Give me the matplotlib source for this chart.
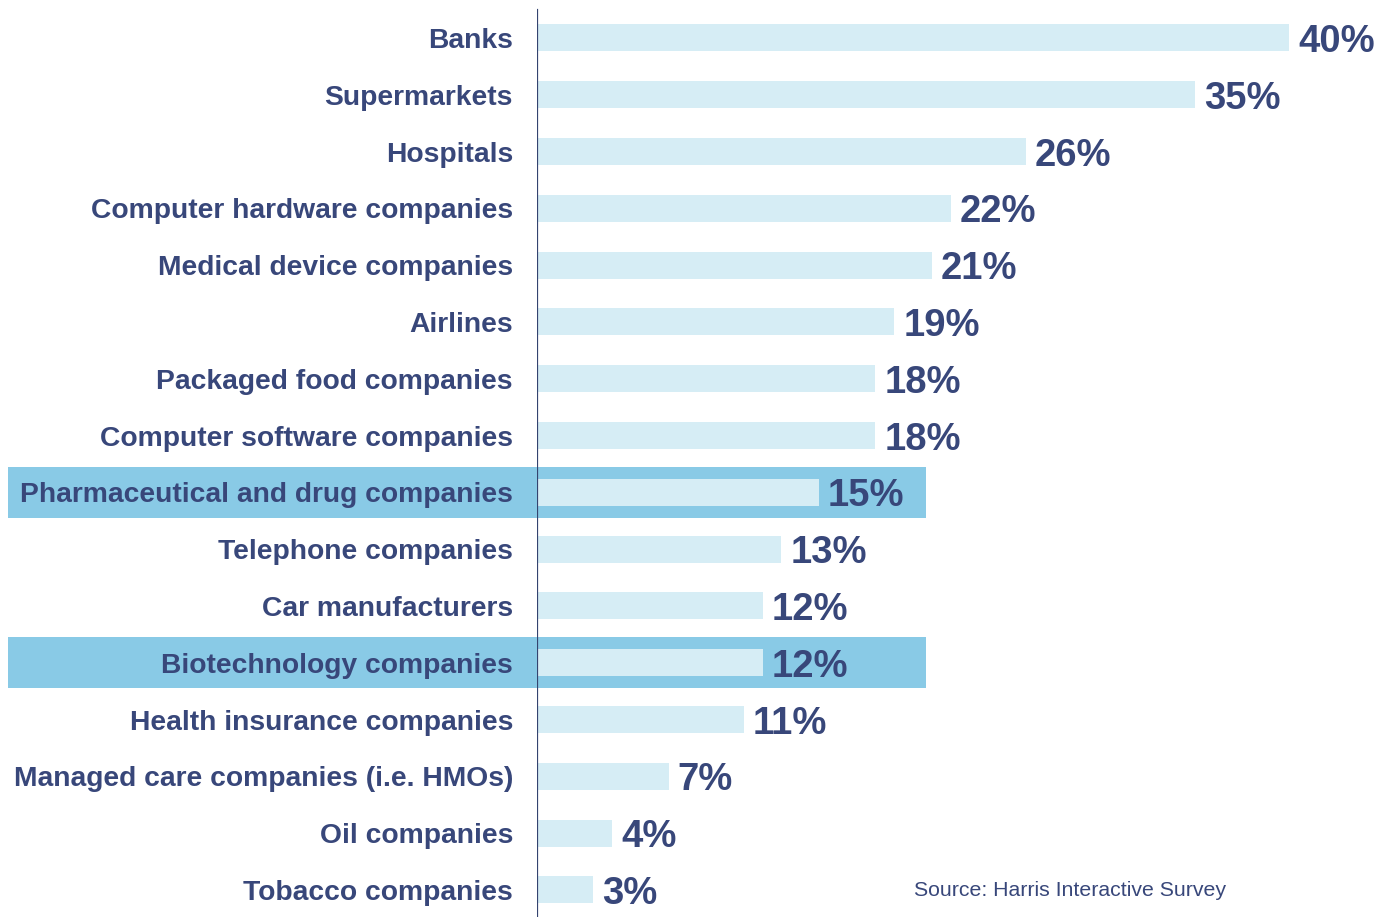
import matplotlib
matplotlib.use("Agg")
import matplotlib.pyplot as plt
from matplotlib.patches import Rectangle
from matplotlib.transforms import offset_copy

categories = [
    "Banks", "Supermarkets", "Hospitals", "Computer hardware companies",
    "Medical device companies", "Airlines", "Packaged food companies",
    "Computer software companies", "Pharmaceutical and drug companies",
    "Telephone companies", "Car manufacturers", "Biotechnology companies",
    "Health insurance companies", "Managed care companies (i.e. HMOs)",
    "Oil companies", "Tobacco companies",
]
values = [40, 35, 26, 22, 21, 19, 18, 18, 15, 13, 12, 12, 11, 7, 4, 3]
highlighted = ["Pharmaceutical and drug companies", "Biotechnology companies"]
source = "Source: Harris Interactive Survey"

TEXT = "#38477A"
BAR = "#D6EDF5"
BAND = "#89CAE6"
AXIS = "#34436F"

W, H = 1376, 917
DPI = 100
PT = 72 / DPI
fig = plt.figure(figsize=(W / DPI, H / DPI), dpi=DPI)
fig.patch.set_facecolor("white")

px_per_unit = 18.8
row_px = 56.8
first_row_px = 38
left_px = 537

ax = fig.add_axes([left_px / W, 0, (W - left_px) / W, 1])
ax.set_xlim(0, (W - left_px) / px_per_unit)
ax.set_ylim((H - first_row_px) / row_px, -first_row_px / row_px)
ax.axis("off")

font = ["Liberation Sans", "DejaVu Sans"]

ypos = list(range(len(categories)))

# highlight bands behind selected rows
band_x0 = (8 - left_px) / px_per_unit
band_x1 = (926 - left_px) / px_per_unit
band_h = 51 / row_px
for y, cat in zip(ypos, categories):
    if cat in highlighted:
        ax.add_patch(Rectangle((band_x0, y - band_h / 2), band_x1 - band_x0, band_h,
                               facecolor=BAND, edgecolor="none", zorder=0,
                               clip_on=False))

ax.barh(ypos, values, height=27 / row_px, color=BAR, zorder=2)

# vertical axis line
ax.axvline(0, ymin=0, ymax=(H - 10) / H, color=AXIS, lw=1.6, zorder=3)

lab_tr = offset_copy(ax.transData, fig=fig, x=-24 * PT, y=-3 * PT, units="points")
val_tr = offset_copy(ax.transData, fig=fig, x=9 * PT, y=-4 * PT, units="points")
for y, cat, v in zip(ypos, categories, values):
    ax.text(0, y, cat, transform=lab_tr, ha="right", va="center",
            fontsize=20.3, fontweight="bold", color=TEXT, family=font)
    ax.text(v, y, f"{v}%", transform=val_tr, ha="left", va="center",
            fontsize=27.5, fontweight="bold", color=TEXT, family=font)

fig.text(914 / W, 1 - 890 / H, source, ha="left", va="center",
         fontsize=15.3, color=TEXT, family=font)

fig.savefig("out.png", dpi=DPI, facecolor="white")
